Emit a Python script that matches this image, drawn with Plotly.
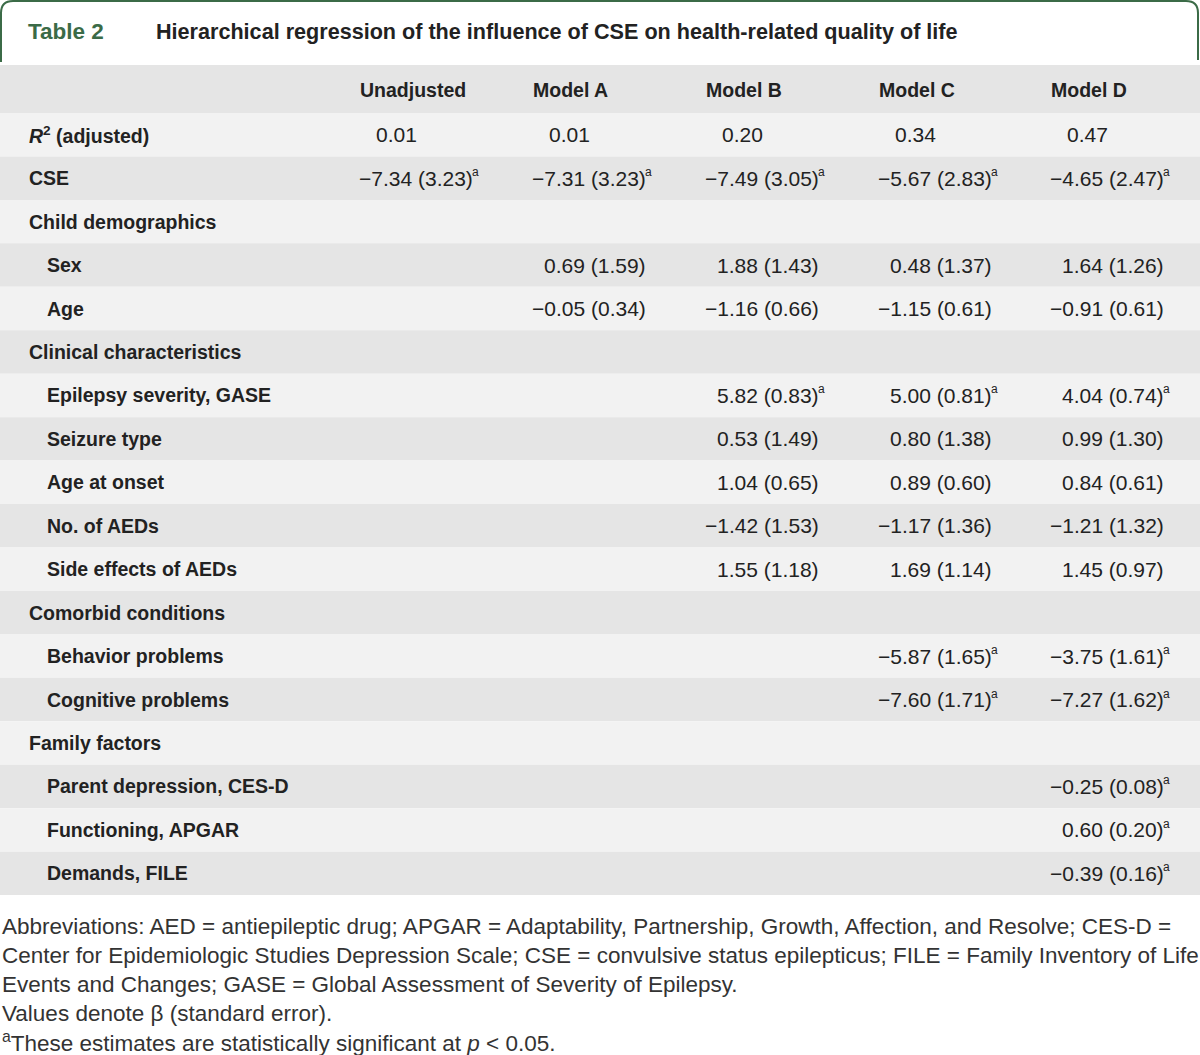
import plotly.graph_objects as go

# ---------------- data ----------------
title_label = "Table 2"
title_text = "Hierarchical regression of the influence of CSE on health-related quality of life"
models = ["Unadjusted", "Model A", "Model B", "Model C", "Model D"]

row_labels = ["<i>R</i><sup>2</sup> (adjusted)", "CSE", "Child demographics", "Sex", "Age",
              "Clinical characteristics", "Epilepsy severity, GASE", "Seizure type", "Age at onset",
              "No. of AEDs", "Side effects of AEDs", "Comorbid conditions", "Behavior problems",
              "Cognitive problems", "Family factors", "Parent depression, CES-D",
              "Functioning, APGAR", "Demands, FILE"]
row_indent = [0, 0, 0, 1, 1, 0, 1, 1, 1, 1, 1, 0, 1, 1, 0, 1, 1, 1]

r2_adjusted = [0.01, 0.01, 0.20, 0.34, 0.47]

# rows after R2 (CSE ... Demands), None = empty cell
beta_unadjusted = [-7.34, None, None, None, None, None, None, None, None, None, None, None, None, None, None, None, None]
se_unadjusted   = [3.23, None, None, None, None, None, None, None, None, None, None, None, None, None, None, None, None]
beta_model_a = [-7.31, None, 0.69, -0.05, None, None, None, None, None, None, None, None, None, None, None, None, None]
se_model_a   = [3.23, None, 1.59, 0.34, None, None, None, None, None, None, None, None, None, None, None, None, None]
beta_model_b = [-7.49, None, 1.88, -1.16, None, 5.82, 0.53, 1.04, -1.42, 1.55, None, None, None, None, None, None, None]
se_model_b   = [3.05, None, 1.43, 0.66, None, 0.83, 1.49, 0.65, 1.53, 1.18, None, None, None, None, None, None, None]
beta_model_c = [-5.67, None, 0.48, -1.15, None, 5.00, 0.80, 0.89, -1.17, 1.69, None, -5.87, -7.60, None, None, None, None]
se_model_c   = [2.83, None, 1.37, 0.61, None, 0.81, 1.38, 0.60, 1.36, 1.14, None, 1.65, 1.71, None, None, None, None]
beta_model_d = [-4.65, None, 1.64, -0.91, None, 4.04, 0.99, 0.84, -1.21, 1.45, None, -3.75, -7.27, None, -0.25, 0.60, -0.39]
se_model_d   = [2.47, None, 1.26, 0.61, None, 0.74, 1.30, 0.61, 1.32, 0.97, None, 1.61, 1.62, None, 0.08, 0.20, 0.16]
significant  = [True, False, False, False, False, True, False, False, False, False, False, True, True, False, True, True, True]

footnotes = [
    "Abbreviations: AED = antiepileptic drug; APGAR = Adaptability, Partnership, Growth, Affection, and Resolve; CES-D =",
    "Center for Epidemiologic Studies Depression Scale; CSE = convulsive status epilepticus; FILE = Family Inventory of Life",
    "Events and Changes; GASE = Global Assessment of Severity of Epilepsy.",
    "Values denote \u03b2 (standard error).",
    "<sup>a</sup>These estimates are statistically significant at <i>p</i> &lt; 0.05.",
]

# ---------------- styling ----------------
W, H = 1200, 1055
GREEN = "#3b6b47"
TXT = "#222222"
LIGHT = "#f2f2f2"
DARK = "#e5e5e5"
FONT = "Liberation Sans, Arial, sans-serif"

header_top, header_bot = 65, 113
row_h = 43.45
col_right = [475, 648, 821, 993.5, 1166]
col_left = [c - 117 for c in col_right]
digit_w = 101
NUM_SIZE = 21
LAB_SIZE = 19.5

betas = [beta_unadjusted, beta_model_a, beta_model_b, beta_model_c, beta_model_d]
ses = [se_unadjusted, se_model_a, se_model_b, se_model_c, se_model_d]

fig = go.Figure()
shapes = []
annotations = []

# title box border (rounded top corners)
r = 12
path = (f"M 1,62 L 1,{1+r} Q 1,1 {1+r},1 L {W-2-r},1 Q {W-2},1 {W-2},{1+r} L {W-2},60")
shapes.append(dict(type="path", path=path, xref="x", yref="y",
                   line=dict(color=GREEN, width=2), layer="above"))

annotations.append(dict(x=26, y=31, text=f"<b>{title_label}</b>", xanchor="left", yanchor="middle",
                        showarrow=False, font=dict(family=FONT, size=22.5, color=GREEN)))
annotations.append(dict(x=154, y=31, text=f"<b>{title_text}</b>", xanchor="left", yanchor="middle",
                        showarrow=False, font=dict(family=FONT, size=21.6, color=TXT)))

# header band
shapes.append(dict(type="rect", x0=0, x1=W, y0=header_top, y1=header_bot, xref="x", yref="y",
                   fillcolor=DARK, line=dict(width=0), layer="below"))
for m, xl in zip(models, col_left):
    annotations.append(dict(x=xl, y=(header_top + header_bot) / 2 + 1, text=f"<b>{m}</b>",
                            xanchor="left", yanchor="middle", showarrow=False,
                            font=dict(family=FONT, size=LAB_SIZE, color=TXT)))

# body rows
for i, (lab, ind) in enumerate(zip(row_labels, row_indent)):
    y0 = header_bot + i * row_h
    yc = y0 + row_h / 2
    shapes.append(dict(type="rect", x0=0, x1=W, y0=y0, y1=y0 + row_h, xref="x", yref="y",
                       fillcolor=LIGHT if i % 2 == 0 else DARK, line=dict(width=0), layer="below"))
    annotations.append(dict(x=45 if ind else 27, y=yc, text=f"<b>{lab}</b>", xanchor="left",
                            yanchor="middle", showarrow=False,
                            font=dict(family=FONT, size=LAB_SIZE, color=TXT)))
    if i == 0:
        for v, cr in zip(r2_adjusted, col_right):
            annotations.append(dict(x=cr - digit_w, y=yc, text=f"{v:.2f}", xanchor="left",
                                    yanchor="middle", showarrow=False,
                                    font=dict(family=FONT, size=NUM_SIZE, color=TXT)))
        continue
    k = i - 1
    for bl, sl, cr in zip(betas, ses, col_right):
        b, s = bl[k], sl[k]
        if b is None:
            continue
        sign = "\u2212" if b < 0 else ""
        txt = f"{sign}{abs(b):.2f} ({s:.2f})"
        annotations.append(dict(x=cr, y=yc, text=txt, xanchor="right", yanchor="middle",
                                showarrow=False, font=dict(family=FONT, size=NUM_SIZE, color=TXT)))
        if significant[k]:
            annotations.append(dict(x=cr - 5, y=yc - 6, text="a", xanchor="left", yanchor="middle",
                                    showarrow=False, font=dict(family=FONT, size=12, color=TXT)))

# footnotes
for j, fn in enumerate(footnotes):
    annotations.append(dict(x=0, y=926 + j * 29, text=fn, xanchor="left", yanchor="middle",
                            showarrow=False, font=dict(family=FONT, size=22.5, color="#333333")))

fig.update_layout(
    width=W, height=H, margin=dict(l=0, r=0, t=0, b=0),
    paper_bgcolor="white", plot_bgcolor="white",
    xaxis=dict(range=[0, W], visible=False, fixedrange=True),
    yaxis=dict(range=[H, 0], visible=False, fixedrange=True),
    shapes=shapes, annotations=annotations, showlegend=False,
)

fig.write_html("out.html", config={"displayModeBar": False},
               post_script="document.body.style.margin='0';")
